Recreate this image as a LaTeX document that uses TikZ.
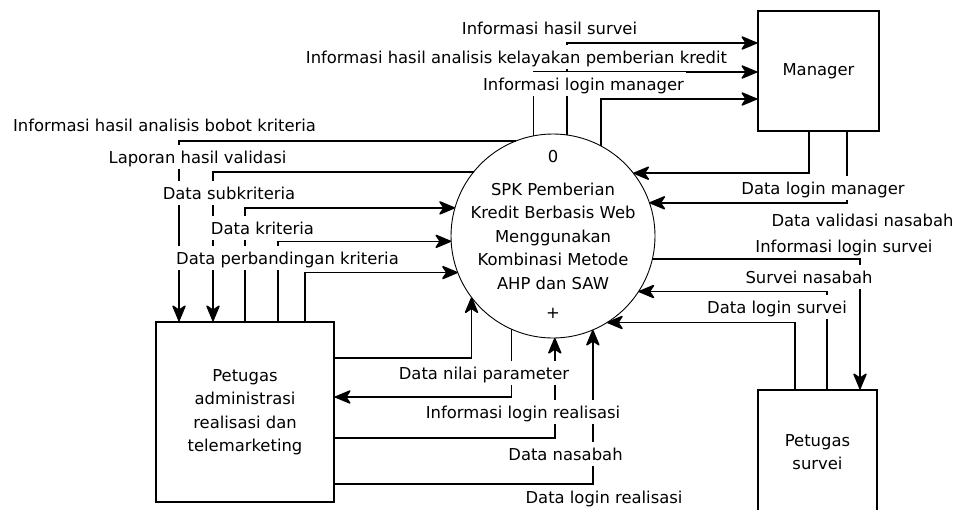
\documentclass[tikz,border=0pt]{standalone}
\usepackage{fontspec}
\setmainfont{DejaVu Sans}
\usetikzlibrary{arrows.meta}

\def\pcx{553}\def\pcy{236}\def\pR{102}
\newcommand\myangL[2]{\pgfmathsetmacro#1{180-asin((\pcy-(#2))/\pR)}}
\newcommand\myangR[2]{\pgfmathsetmacro#1{asin((\pcy-(#2))/\pR)}}
\newcommand\myangT[2]{\pgfmathsetmacro#1{acos(((#2)-\pcx)/\pR)}}
\newcommand\myangB[2]{\pgfmathsetmacro#1{-acos(((#2)-\pcx)/\pR)}}

\tikzset{
  every node/.style={font=\fontsize{16.4}{23.5}\selectfont, text=black},
  entity/.style={draw, line width=1.7pt, rectangle, inner sep=0pt, align=center},
  procshape/.style={draw, circle, line width=0.9pt, minimum size=204pt, inner sep=0pt, outer sep=0pt, align=center},
  plain/.style={inner sep=0pt},
  flow/.style={draw, line width=1.5pt},
  arr/.style={flow, -{Stealth[length=18pt, width=15pt, inset=5pt, round]}},
  lbl/.style={fill=white, inner xsep=2pt, inner ysep=1.5pt, text height=17pt, text depth=4pt},
}

\begin{document}
\begin{tikzpicture}[x=1pt, y=-1pt]
\useasboundingbox (0,0) rectangle (957,509);
\fill[white] (0,0) rectangle (957,509);
\clip (0,0) rectangle (957,509);

% nodes
\node[procshape] (proc) at (\pcx,\pcy) {SPK Pemberian\\Kredit Berbasis Web\\Menggunakan\\Kombinasi Metode\\AHP dan SAW};
\node[plain] (procid) at (553,157) {0};
\node[plain] (procplus) at (553,313) {+};
\node[entity, minimum width=121pt, minimum height=120pt] (mgr) at (818.5,71) {Manager};
\node[entity, minimum width=178pt, minimum height=180pt] (adm) at (245,412) {Petugas\\administrasi\\realisasi dan\\telemarketing};
\node[entity, minimum width=119pt, minimum height=124pt] (srv) at (817.5,452) {Petugas\\survei};

% connectors to Manager
\myangT\aA{566}\myangT\aB{532}\myangT\aC{600}
\draw[arr] (proc.\aA) |- ([yshift=28pt]mgr.west);
\draw[arr] (proc.\aB) |- ([yshift=-1pt]mgr.west);
\draw[arr] (proc.\aC) |- ([yshift=-28pt]mgr.west);

% connectors with the administration box (top)
\myangL\bA{141}\myangL\bB{173}\myangL\bC{209}\myangL\bD{243}\myangL\bE{274}
\draw[arr] (proc.\bA) -| ([xshift=-66pt]adm.north);
\draw[arr] (proc.\bB) -| ([xshift=-32pt]adm.north);
\draw[arr] (adm.north) |- (proc.\bC);
\draw[arr] ([xshift=33pt]adm.north) |- (proc.\bD);
\draw[arr] ([xshift=60pt]adm.north) |- (proc.\bE);

% connectors with the administration box (right side)
\myangB\cA{471}\myangB\cB{510}\myangB\cC{554}\myangB\cD{592}
\draw[arr] ([yshift=54pt]adm.east) -| (proc.\cA);
\draw[arr] (proc.\cB) |- ([yshift=15pt]adm.east);
\draw[arr] ([yshift=-26pt]adm.east) -| (proc.\cC);
\draw[arr] ([yshift=-72pt]adm.east) -| (proc.\cD);

% connectors on the right
\myangR\dA{172}\myangR\dB{202}\myangR\dC{260}\myangR\dD{293}\myangR\dE{323}
\draw[arr] ([xshift=-9.5pt]mgr.south) |- (proc.\dA);
\draw[arr] ([xshift=28.5pt]mgr.south) |- (proc.\dB);
\draw[arr] (proc.\dC) -| ([xshift=42.5pt]srv.north);
\draw[arr] ([xshift=9.5pt]srv.north) |- (proc.\dD);
\draw[arr] ([xshift=-22.5pt]srv.north) |- (proc.\dE);

% labels
\node[lbl] (l1) at (549.5,27.5) {Informasi hasil survei};
\node[lbl] (l2) at (516.5,56.5) {Informasi hasil analisis kelayakan pemberian kredit};
\node[lbl] (l3) at (583.5,84) {Informasi login manager};
\node[lbl] (l4) at (164.5,125) {Informasi hasil analisis bobot kriteria};
\node[lbl] (l5) at (197.5,157) {Laporan hasil validasi};
\node[lbl] (l6) at (229,193) {Data subkriteria};
\node[lbl] (l7) at (262.5,228) {Data kriteria};
\node[lbl] (l8) at (287.5,258) {Data perbandingan kriteria};
\node[lbl] (l9) at (484,373) {Data nilai parameter};
\node[lbl] (l10) at (523,412) {Informasi login realisasi};
\node[lbl] (l11) at (565.5,454) {Data nasabah};
\node[lbl] (l12) at (604,497) {Data login realisasi};
\node[lbl] (l13) at (823,188) {Data login manager};
\node[lbl] (l14) at (862.5,220) {Data validasi nasabah};
\node[lbl] (l15) at (844,246) {Informasi login survei};
\node[lbl] (l16) at (809,277) {Survei nasabah};
\node[lbl] (l17) at (777,307) {Data login survei};
\end{tikzpicture}
\end{document}
